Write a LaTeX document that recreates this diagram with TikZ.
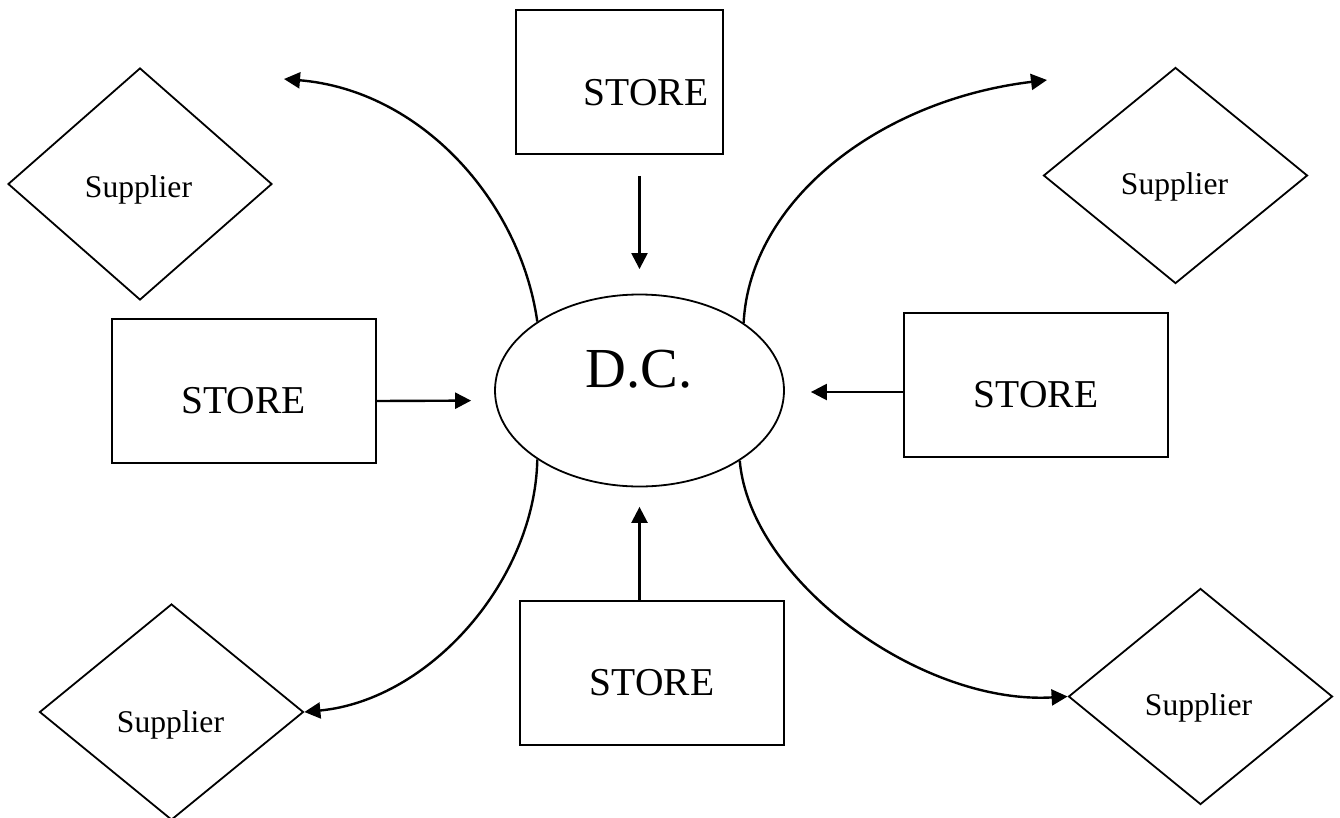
\documentclass[tikz,border=0pt]{standalone}
\usepackage{fontspec}
\setmainfont{Liberation Serif}
\usetikzlibrary{shapes.geometric,arrows.meta,calc}
\begin{document}
\begin{tikzpicture}[x=0.75pt,y=-0.75pt,
  shapeline/.style={draw=black,line width=1.35pt},
  storebox/.style={shapeline,rectangle,inner sep=0pt,minimum height=108pt},
  supplier/.style={shapeline,diamond,inner sep=0pt,minimum width=198pt,minimum height=162pt},
  lbl/.style={anchor=base,inner sep=0pt},
  storetext/.style={lbl,font=\fontsize{29.6}{34}\selectfont},
  suptext/.style={lbl,font=\fontsize{23.7}{28}\selectfont},
  arr/.style={line width=1.8pt,-{Triangle[length=12pt,width=12pt]}}]
\useasboundingbox (0,0) rectangle (1340,818);

% distribution centre
\node[shapeline,ellipse,inner sep=0pt,minimum width=216.75pt,minimum height=144pt] (dc) at (639.5,390.5) {};
\node[lbl,font=\fontsize{42.4}{48}\selectfont] (dct) at (639,387) {D.C.};

% stores
\node[storebox,minimum width=155.25pt] (ts) at (619.5,82) {};
\node[storebox,minimum width=198pt] (ls) at (244,391) {};
\node[storebox,minimum width=198pt] (rs) at (1036,385) {};
\node[storebox,minimum width=198pt] (bs) at (652,673) {};
\node[storetext] (tst) at (646,105) {STORE};
\node[storetext] (lst) at (243.5,413) {STORE};
\node[storetext] (rst) at (1036,407) {STORE};
\node[storetext] (bst) at (652,695) {STORE};

% suppliers
\node[supplier,minimum height=174pt] (stl) at (140,184) {};
\node[supplier] (str) at (1175.5,175.5) {};
\node[supplier] (sbl) at (171.5,712) {};
\node[supplier] (sbr) at (1200.5,696.5) {};
\node[suptext] (tstl) at (138.5,197) {Supplier};
\node[suptext] (tstr) at (1174.5,194) {Supplier};
\node[suptext] (tsbl) at (170.5,732) {Supplier};
\node[suptext] (tsbr) at (1198.5,715) {Supplier};

% free ends of the two upper flows
\coordinate (tlend) at (284,79);
\coordinate (trend) at (1047,80);

% stores into the D.C.
\draw[arr,shorten <=15.75pt,shorten >=18.4pt] (ts.south -| dc.north) -- (dc.north);
\draw[arr,shorten >=17.25pt] ($(ls.east)+(0,10)$) -- ($(dc.west)+(0,10)$);
\draw[arr,shorten >=19.5pt] ($(rs.west)+(0,7)$) -- ($(dc.east)+(0,1.5)$);
\draw[arr,shorten >=14.6pt] (bs.north -| dc.south) -- (dc.south);

% D.C. out to the suppliers
\draw[arr] (dc.146) .. controls (520,200) and (420,90) .. (tlend);
\draw[arr] (dc.33.4) .. controls (750,200) and (880,100) .. (trend);
\draw[arr] (dc.214.4) .. controls (535,580) and (430,700) .. (sbl.east);
\draw[arr] (dc.325.9) .. controls (750,580) and (920,705) .. (sbr.west);
\end{tikzpicture}
\end{document}
